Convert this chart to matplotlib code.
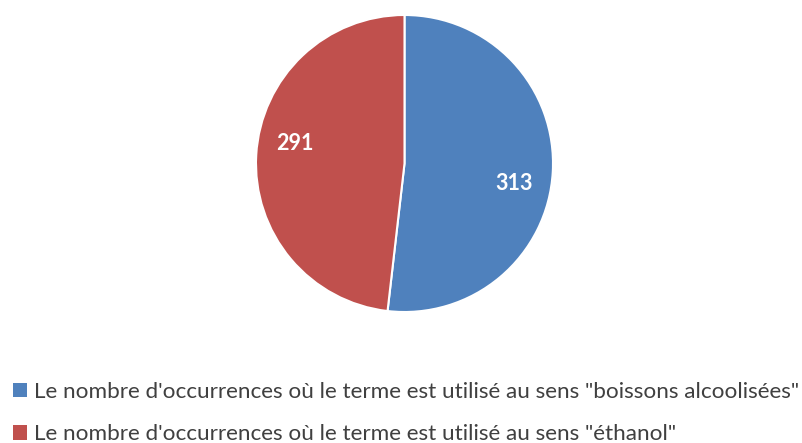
import matplotlib
matplotlib.use("Agg")
import numpy as np
import matplotlib.pyplot as plt
from matplotlib.patches import Patch

labels = [
    'Le nombre d\'occurrences où le terme est utilisé au sens "boissons alcoolisées"',
    'Le nombre d\'occurrences où le terme est utilisé au sens "éthanol"',
]
values = [313, 291]
colors = ['#4F81BD', '#C0504D']

W, H = 802, 443
fig = plt.figure(figsize=(W / 100, H / 100), dpi=100)

# pie area (pixels): centre 404.5,163.5 radius 148.5
cx, cy, r = 404.5, 163.5, 148.5
ax = fig.add_axes([(cx - r) / W, (H - cy - r) / H, 2 * r / W, 2 * r / H])
total = sum(values)
wedges, _, autotexts = ax.pie(
    values, colors=colors, startangle=90, counterclock=False,
    autopct=lambda p: f'{round(p * total / 100)}', pctdistance=0.75,
    wedgeprops=dict(edgecolor='white', linewidth=1.5),
    textprops=dict(color='white', fontsize=15.5, fontweight='bold', family='Lato'),
)
# excel puts the labels a bit clockwise of the wedge middle
rot = np.deg2rad(-7)
for t in autotexts:
    x, y = t.get_position()
    t.set_position((x * np.cos(rot) - y * np.sin(rot), x * np.sin(rot) + y * np.cos(rot)))

ax.set_xlim(-1, 1)
ax.set_ylim(-1, 1)
ax.set_aspect('auto')
ax.axis('off')

handles = [Patch(facecolor=c, edgecolor='none') for c in colors]
leg = fig.legend(handles, labels, loc='upper left', bbox_to_anchor=(4 / W, 1 - 373 / H),
                 frameon=False, handlelength=0.6, handleheight=0.6,
                 handletextpad=0.35, labelspacing=1.0, borderaxespad=0,
                 prop=dict(family='Lato', size=16.2))
for t in leg.get_texts():
    t.set_color('#404040')

fig.savefig('out.png', dpi=100)
